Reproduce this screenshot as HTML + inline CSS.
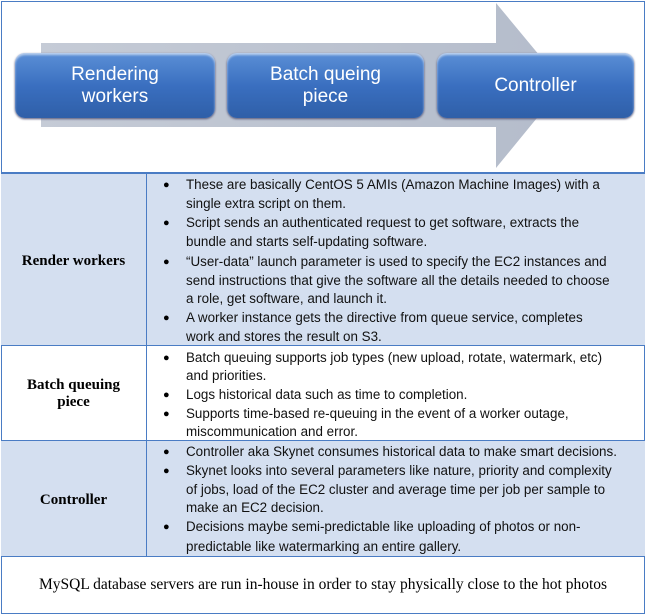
<!DOCTYPE html>
<html><head><meta charset="utf-8"><style>
body{margin:0;width:646px;height:615px;background:#fff;position:relative;overflow:hidden;font-family:"Liberation Sans",sans-serif}
.a{position:absolute;white-space:nowrap}
.t{position:absolute;left:186px;font-size:13.4px;color:#111;white-space:nowrap;line-height:16px}
.b{position:absolute;left:163px;font-size:11px;color:#000;line-height:16px}
.lab{position:absolute;left:0;width:147px;text-align:center;font-family:"Liberation Serif",serif;font-weight:bold;font-size:15px;line-height:17px}
.box{position:absolute;top:53px;height:65px;border-radius:10px;background:linear-gradient(#5b8fd6,#3a6fc0 50%,#2f5fa8);box-shadow:inset 0 2px 2px rgba(255,255,255,.6),0 1px 2px #557;color:#fff;font-size:19px;text-align:center;display:flex;align-items:center;justify-content:center;line-height:22px}
</style></head><body>
<div class="a" style="left:1px;top:1px;width:642px;height:611px;border:1px solid #4a7cc4"></div>
<svg class="a" style="left:0;top:0" width="646" height="175">
<defs><linearGradient id="g" x1="0" y1="0" x2="1" y2="0"><stop offset="0" stop-color="#c5cbd6"/><stop offset="1" stop-color="#b4bccb"/></linearGradient></defs>
<polygon points="41,43 496,43 496,3 564,85 496,168 496,127 41,127" fill="url(#g)"/>
</svg>
<div class="box" style="left:15px;width:200px">Rendering<br>workers</div>
<div class="box" style="left:227px;width:197px">Batch queing<br>piece</div>
<div class="box" style="left:437px;width:197px">Controller</div>
<div class="a" style="left:1px;top:172px;width:644px;height:173px;background:#d4dff0"></div>
<div class="a" style="left:1px;top:440px;width:644px;height:116px;background:#d4dff0"></div>
<div class="a" style="left:1px;top:172px;width:644px;height:2px;background:#4a7cc4"></div>
<div class="a" style="left:1px;top:345px;width:644px;height:1px;background:#4a7cc4"></div>
<div class="a" style="left:1px;top:440px;width:644px;height:1px;background:#4a7cc4"></div>
<div class="a" style="left:1px;top:556px;width:644px;height:1px;background:#4a7cc4"></div>
<div class="a" style="left:146px;top:172px;width:1px;height:384px;background:#4a7cc4"></div>

<div class="lab" style="top:253px">Render workers</div>
<div class="lab" style="top:377px">Batch queuing<br>piece</div>
<div class="lab" style="top:492px">Controller</div>

<div class="b" style="top:177px">●</div>
<div class="t" style="top:177px">These are basically  CentOS 5 AMIs (Amazon Machine Images) with a</div>
<div class="t" style="top:196px">single extra script  on them.</div>
<div class="b" style="top:215px">●</div>
<div class="t" style="top:215px">Script sends an authenticated request to get software, extracts the</div>
<div class="t" style="top:234px">bundle and starts self-updating software.</div>
<div class="b" style="top:254px">●</div>
<div class="t" style="top:254px">“User-data” launch parameter is used to specify the EC2 instances and</div>
<div class="t" style="top:273px">send instructions  that give the software all the details needed to choose</div>
<div class="t" style="top:291px">a role, get software, and launch it.</div>
<div class="b" style="top:310px">●</div>
<div class="t" style="top:310px"> A worker instance gets the directive from queue service, completes</div>
<div class="t" style="top:329px">work and stores the result on S3.</div>

<div class="b" style="top:350px">●</div>
<div class="t" style="top:350px">Batch queuing supports job types (new upload, rotate, watermark, etc)</div>
<div class="t" style="top:368px">and priorities.</div>
<div class="b" style="top:387px">●</div>
<div class="t" style="top:387px">Logs historical  data such as time to completion.</div>
<div class="b" style="top:406px">●</div>
<div class="t" style="top:406px">Supports time-based re-queuing in the event of a worker outage,</div>
<div class="t" style="top:424px">miscommunication  and error.</div>

<div class="b" style="top:444px">●</div>
<div class="t" style="top:444px">Controller aka Skynet consumes historical  data to make smart decisions.</div>
<div class="b" style="top:463px">●</div>
<div class="t" style="top:463px">Skynet looks into several parameters like nature, priority and complexity</div>
<div class="t" style="top:482px">of jobs, load of the EC2 cluster and average time per job per sample to</div>
<div class="t" style="top:500px">make an EC2 decision.</div>
<div class="b" style="top:519px">●</div>
<div class="t" style="top:519px">Decisions maybe semi-predictable like uploading of photos or non-</div>
<div class="t" style="top:539px">predictable like watermarking an entire gallery.</div>

<div class="a" style="left:1px;width:644px;top:576px;text-align:center;font-family:'Liberation Serif',serif;font-size:15.5px;line-height:18px">MySQL database  servers  are run in-house  in order to stay physically  close to the hot photos</div>
</body></html>
